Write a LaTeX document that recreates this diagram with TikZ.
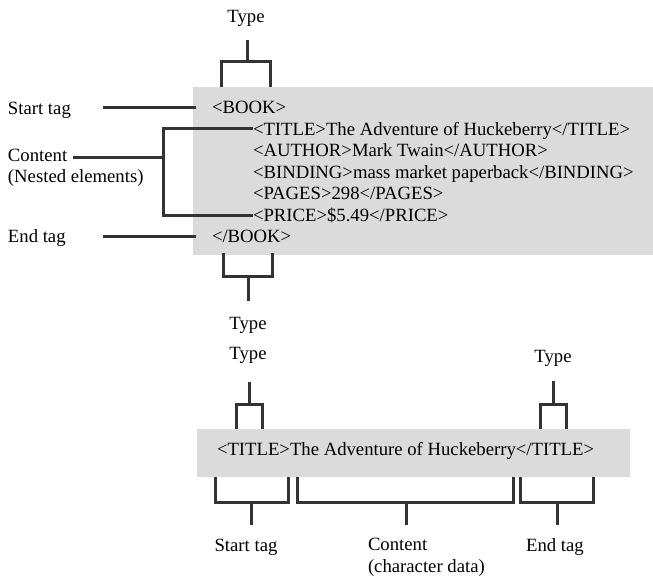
\documentclass[tikz,border=0pt]{standalone}
\usepackage{fontspec}
\setmainfont{Liberation Serif}
\begin{document}
\begin{tikzpicture}[x=1pt,y=-1pt,
  lbl/.style={inner sep=0pt, outer sep=0pt, font=\fontsize{18.7}{21.5}\selectfont},
  wire/.style={draw=black!80, line width=3pt, line join=miter},
  panel/.style={fill=black!14, draw=none}]
\useasboundingbox (0,0) rectangle (653,577);

% ---------- element listing ----------
\fill[panel] (193,87) rectangle (653,255);
\node[lbl, anchor=base west] (book)    at (212,114)   {<BOOK>};
\node[lbl, anchor=base west] (title)   at (253,135.5) {<TITLE>The Adventure of Huckeberry</TITLE>};
\node[lbl, anchor=base west] (author)  at (253,157)   {<AUTHOR>Mark Twain</AUTHOR>};
\node[lbl, anchor=base west] (binding) at (253,178.5) {<BINDING>mass market paperback</BINDING>};
\node[lbl, anchor=base west] (pages)   at (253,200)   {<PAGES>298</PAGES>};
\node[lbl, anchor=base west] (price)   at (253,221.5) {<PRICE>\$5.49</PRICE>};
\node[lbl, anchor=base west] (ebook)   at (212,243)   {</BOOK>};

% labels on the left
\node[lbl, anchor=base west] (lstart)   at (8,115) {Start tag};
\node[lbl, anchor=base west] (lcontent) at (8,162) {Content};
\node[lbl, anchor=base west] (lnested)  at (8,183) {(Nested elements)};
\node[lbl, anchor=base west] (lend)     at (8,243) {End tag};

\coordinate (sA) at (103,108);  \coordinate (sB) at (196,108);
\coordinate (eA) at (103,237);  \coordinate (eB) at (196,237);
\coordinate (cA) at (73,158);   \coordinate (cB) at (163,158);
\draw[wire] (sA) -- (sB);
\draw[wire] (eA) -- (eB);
\draw[wire] (cA) -- (cB);
\draw[wire] (title.west |- 0,129) -- (163,129) -- (163,216) -- (price.west |- 0,216);

% type brackets above and below the listing
\node[lbl, anchor=base] (typeTop) at (246,23)  {Type};
\node[lbl, anchor=base] (typeBot) at (248,329) {Type};
\draw[wire] (221,87) -- (221,62) -- (270,62) -- (270,87);
\draw[wire] (247,62) -- (247,40);
\draw[wire] (223,253) -- (223,277) -- (272,277) -- (272,253);
\draw[wire] (248,277) -- (248,301);

% ---------- single element ----------
\fill[panel] (197,429) rectangle (630,477);
\node[lbl, anchor=base west] (elem) at (217,455) {<TITLE>The Adventure of Huckeberry</TITLE>};

\node[lbl, anchor=base] (typeL) at (248,359) {Type};
\node[lbl, anchor=base] (typeR) at (553,362) {Type};
\draw[wire] (236,429) -- (236,404) -- (262,404) -- (262,429);
\draw[wire] (249,404) -- (249,382);
\draw[wire] (540,429) -- (540,404) -- (566,404) -- (566,429);
\draw[wire] (553,404) -- (553,381);

\draw[wire] (215,477) -- (215,502) -- (288,502) -- (288,477);
\draw[wire] (251,502) -- (251,525);
\draw[wire] (297,477) -- (297,502) -- (513,502) -- (513,477);
\draw[wire] (406,502) -- (406,525);
\draw[wire] (520,477) -- (520,502) -- (593,502) -- (593,477);
\draw[wire] (557,502) -- (557,525);

\node[lbl, anchor=base] (bstart) at (246,551) {Start tag};
\node[lbl, anchor=base west] (bcontent) at (368,550) {Content};
\node[lbl, anchor=base west] (bchar) at (368,572) {(character data)};
\node[lbl, anchor=base] (bend) at (555,551) {End tag};
\end{tikzpicture}
\end{document}
